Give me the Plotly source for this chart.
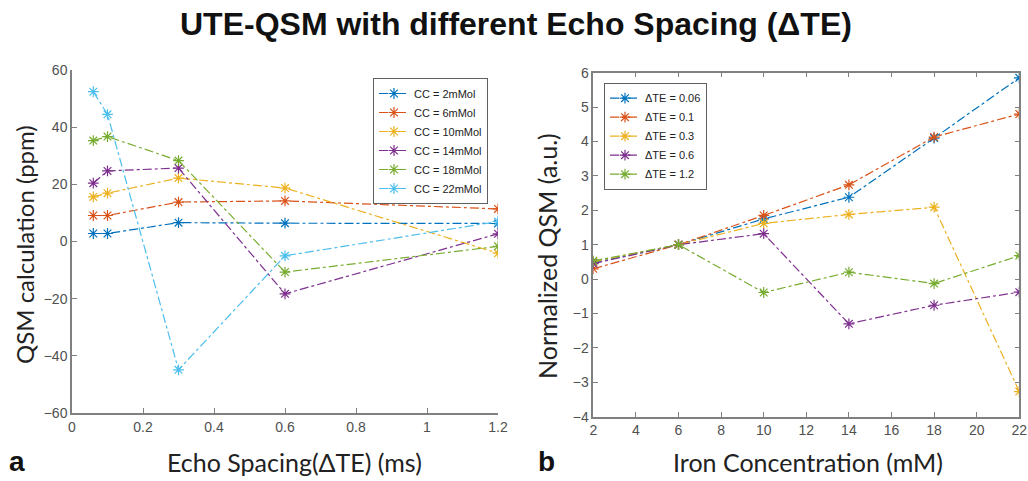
import plotly.graph_objects as go

# ---- data: left panel ----
dte = [0.06, 0.1, 0.3, 0.6, 1.2]
cc_names = ["CC = 2mMol", "CC = 6mMol", "CC = 10mMol", "CC = 14mMol", "CC = 18mMol", "CC = 22mMol"]
cc2 = [2.8, 2.8, 6.6, 6.4, 6.3]
cc6 = [9.1, 9.1, 13.8, 14.2, 11.4]
cc10 = [15.6, 16.9, 22.2, 18.7, -4.1]
cc14 = [20.4, 24.7, 25.7, -18.3, 2.7]
cc18 = [35.3, 36.7, 28.3, -10.7, -1.7]
cc22 = [52.4, 44.5, -44.9, -5.0, 7.0]
left_series = [cc2, cc6, cc10, cc14, cc18, cc22]

# ---- data: right panel ----
iron = [2, 6, 10, 14, 18, 22]
dte_names = ["\u0394TE = 0.06", "\u0394TE = 0.1", "\u0394TE = 0.3", "\u0394TE = 0.6", "\u0394TE = 1.2"]
d006 = [0.48, 1.0, 1.75, 2.38, 4.1, 5.85]
d01 = [0.3, 1.0, 1.85, 2.74, 4.13, 4.8]
d03 = [0.51, 1.0, 1.62, 1.88, 2.09, -3.27]
d06 = [0.45, 1.0, 1.32, -1.3, -0.76, -0.38]
d12 = [0.53, 1.0, -0.39, 0.2, -0.13, 0.68]
right_series = [d006, d01, d03, d06, d12]

left_xticks = [0, 0.2, 0.4, 0.6, 0.8, 1, 1.2]
left_xticklabels = ["0", "0.2", "0.4", "0.6", "0.8", "1", "1.2"]

colors = ["#0072BD", "#D95319", "#EDB120", "#7E2F8E", "#77AC30", "#4DBEEE"]

W, H = 1028, 481
def px(x): return x / W
def py(y): return 1 - y / H

fig = go.Figure()

for name, vals, c in zip(cc_names, left_series, colors):
    fig.add_trace(go.Scatter(
        x=dte, y=vals, name=name, mode="lines+markers",
        line=dict(color=c, width=1.2, dash="dashdot"),
        marker=dict(symbol="asterisk-open", size=9, color=c, line=dict(color=c, width=1.2)),
        xaxis="x", yaxis="y", legend="legend"))

for name, vals, c in zip(dte_names, right_series, colors):
    fig.add_trace(go.Scatter(
        x=iron, y=vals, name=name, mode="lines+markers",
        line=dict(color=c, width=1.2, dash="dashdot"),
        marker=dict(symbol="asterisk-open", size=9, color=c, line=dict(color=c, width=1.2)),
        xaxis="x2", yaxis="y2", legend="legend2"))

axcol = "#808080"
tickfont = dict(family="Liberation Sans, Arial, sans-serif", size=14, color="#505050")
common = dict(showline=True, linecolor=axcol, linewidth=1.5, ticks="inside", ticklen=5,
              tickcolor=axcol, tickwidth=1, showgrid=False, zeroline=False, tickfont=tickfont,
              automargin=False)

legfont = dict(family="Liberation Sans, Arial, sans-serif", size=11, color="#222")
fig.update_layout(
    width=W, height=H, margin=dict(l=0, r=0, t=0, b=0, autoexpand=False),
    paper_bgcolor="white", plot_bgcolor="white",
    xaxis=dict(domain=[px(72), px(498)], range=[0, 1.2], tickvals=left_xticks,
               ticktext=left_xticklabels, anchor="y", **common),
    yaxis=dict(domain=[py(413), py(70)], range=[-60, 60], dtick=20, anchor="x", **common),
    xaxis2=dict(domain=[px(593.3), px(1019.3)], range=[2, 22], dtick=2, anchor="y2",
                mirror="ticks", **common),
    yaxis2=dict(domain=[py(416.7), py(72.7)], range=[-4, 6], dtick=1, anchor="x2",
                mirror="ticks", **common),
    legend=dict(x=px(373), y=py(78), xanchor="left", yanchor="top",
                bordercolor="#606060", borderwidth=1, bgcolor="white",
                font=legfont, tracegroupgap=0, itemwidth=30),
    legend2=dict(x=px(604), y=py(82.7), xanchor="left", yanchor="top",
                 bordercolor="#606060", borderwidth=1, bgcolor="white",
                 font=legfont, tracegroupgap=0, itemwidth=30),
    showlegend=True,
)

titlefont = dict(family="Lato, Liberation Sans, sans-serif", size=25, color="#222")
boldfont = dict(family="Liberation Sans, Arial, sans-serif", size=32, color="#111")
anns = [
    dict(text="<b>UTE-QSM with different Echo Spacing (\u0394TE)</b>", x=px(516), y=py(24),
         font=boldfont),
    dict(text="Echo Spacing(\u0394TE) (ms)", x=px(294), y=py(462), font=titlefont),
    dict(text="Iron Concentration (mM)", x=px(808), y=py(462), font=titlefont),
    dict(text="QSM calculation (ppm)", x=px(24), y=py(245), textangle=-90, font=dict(titlefont, size=24)),
    dict(text="Normalized QSM (a.u.)", x=px(547), y=py(256), textangle=-90, font=titlefont),
    dict(text="<b>a</b>", x=px(17), y=py(461), font=dict(boldfont, size=28)),
    dict(text="<b>b</b>", x=px(546), y=py(461), font=dict(boldfont, size=28)),
]
for a in anns:
    a.update(xref="paper", yref="paper", showarrow=False, xanchor="center", yanchor="middle")
fig.update_layout(annotations=anns)

fig.write_html("out.html", config={"displayModeBar": False},
               post_script="document.body.style.margin='0';document.body.style.overflow='hidden';")
